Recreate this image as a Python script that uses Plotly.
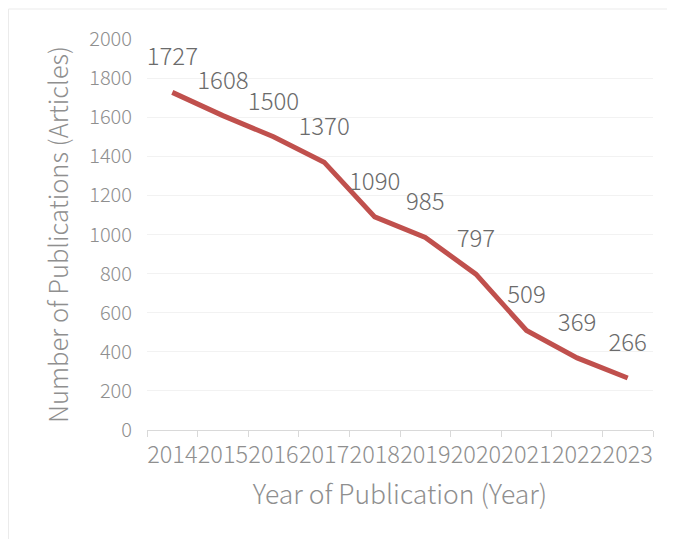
import plotly.graph_objects as go

years = ["2014", "2015", "2016", "2017", "2018", "2019", "2020", "2021", "2022", "2023"]
counts = [1727, 1608, 1500, 1370, 1090, 985, 797, 509, 369, 266]
y_ticks = [0, 200, 400, 600, 800, 1000, 1200, 1400, 1600, 1800, 2000]

FONT = "Noto Sans CJK SC, Noto Sans, sans-serif"
W = 300

fig = go.Figure()
fig.add_trace(go.Scatter(
    x=years, y=counts, mode="lines",
    line=dict(color="#C0504D", width=5),
    hoverinfo="skip", showlegend=False,
))
fig.add_trace(go.Scatter(
    x=years, y=counts, mode="markers+text",
    text=[str(v) for v in counts], textposition="top center",
    marker=dict(size=32, opacity=0),
    textfont=dict(family=FONT, size=24, color="#6b6b6b", weight=W),
    hoverinfo="skip", showlegend=False,
))

fig.update_layout(
    width=675, height=539,
    margin=dict(l=139, r=30, t=31, b=117),
    paper_bgcolor="white", plot_bgcolor="white",
    font=dict(family=FONT, weight=W),
    xaxis=dict(
        type="category", categoryorder="array", categoryarray=years,
        range=[-0.5, len(years) - 0.5], tickangle=0,
        tickson="boundaries", ticks="outside", ticklen=6,
        tickcolor="#d9d9d9", showline=True, linecolor="#d9d9d9", linewidth=1,
        showgrid=False, zeroline=False, ticklabelstandoff=4,
        tickfont=dict(family=FONT, size=23.5, color="#8f8f8f", weight=W),
        title=dict(text="Year of Publication (Year)", standoff=16,
                   font=dict(family=FONT, size=26.5, color="#8f8f8f", weight=W)),
    ),
    yaxis=dict(
        range=[0, 2000], tickvals=y_ticks, showgrid=True, gridcolor="#f2f2f2",
        zeroline=False, showline=False, ticks="", ticklabelstandoff=14,
        tickfont=dict(family=FONT, size=20, color="#8f8f8f", weight=W),
        title=dict(text="Number of Publications (Articles)", standoff=13,
                   font=dict(family=FONT, size=25.5, color="#8f8f8f", weight=W)),
    ),
    shapes=[dict(type="rect", xref="paper", yref="paper",
                 x0=-0.2737, x1=1.2, y0=-0.5, y1=1.0767,
                 line=dict(color="#ebebeb", width=1), layer="below")],
)

fig.write_html("out.html")
